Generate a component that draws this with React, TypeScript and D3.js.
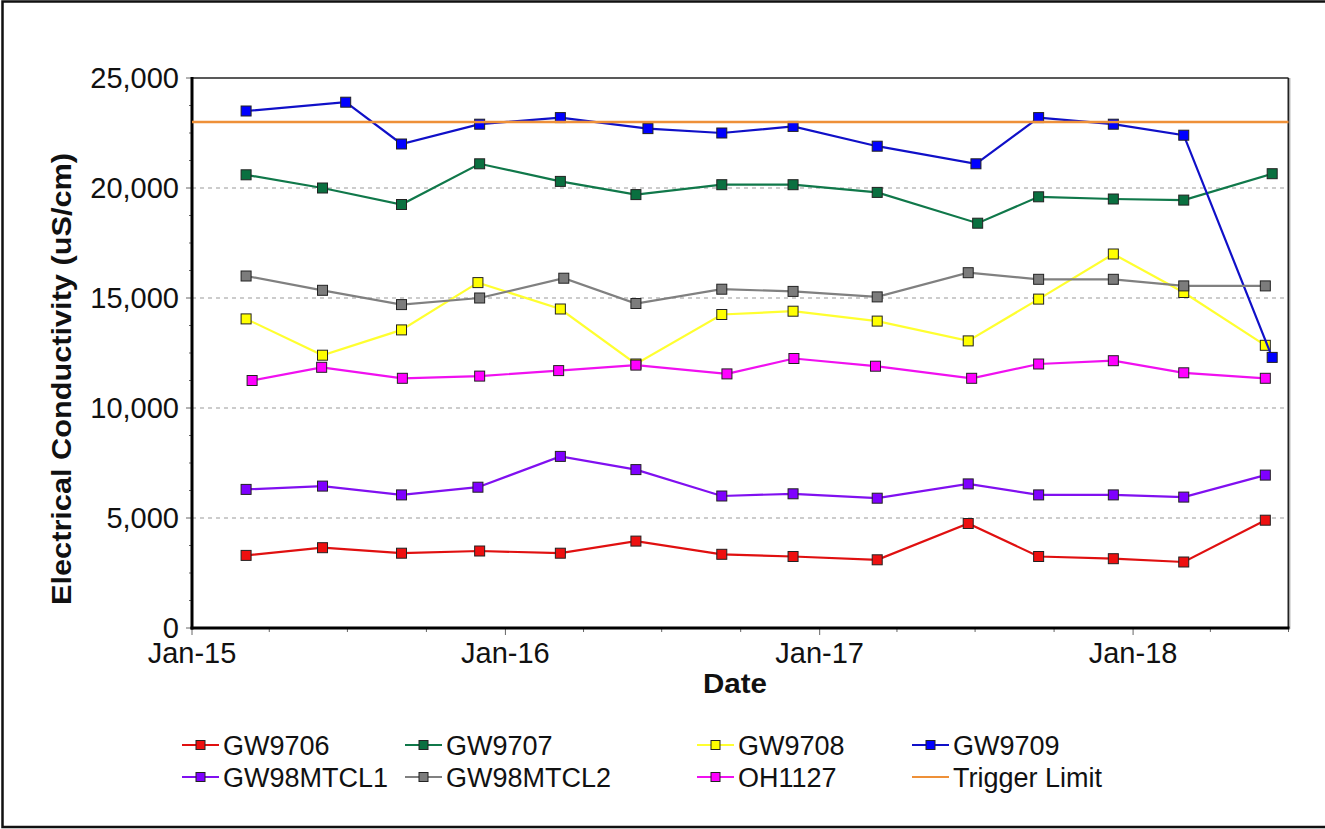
import React from 'react';
import * as d3 from 'd3';

const seriesNames = ['GW9706', 'GW9707', 'GW9708', 'GW9709', 'GW98MTCL1', 'GW98MTCL2', 'OH1127'];
const seriesColors = ['#e01010', '#10784a', '#ffff30', '#1010c8', '#8010f0', '#808080', '#f010f0'];
const markerFills = ['#ee1010', '#0a7040', '#ffff00', '#0000ff', '#7f00ff', '#7c7c7c', '#ff00ff'];

const gw9706Dates = ['2015-03-05', '2015-06-02', '2015-09-02', '2015-12-02', '2016-03-05', '2016-06-01', '2016-09-09', '2016-12-01', '2017-03-09', '2017-06-23', '2017-09-13', '2017-12-09', '2018-03-01', '2018-06-04'];
const gw9706Values = [3300, 3650, 3400, 3500, 3400, 3950, 3350, 3250, 3100, 4750, 3250, 3150, 3000, 4900];

const gw9707Dates = ['2015-03-05', '2015-06-02', '2015-09-02', '2015-12-02', '2016-03-05', '2016-06-01', '2016-09-09', '2016-12-01', '2017-03-09', '2017-07-04', '2017-09-13', '2017-12-09', '2018-03-01', '2018-06-12'];
const gw9707Values = [20600, 20000, 19250, 21100, 20300, 19700, 20150, 20150, 19800, 18400, 19600, 19500, 19450, 20650];

const gw9708Dates = ['2015-03-05', '2015-06-02', '2015-09-02', '2015-11-30', '2016-03-05', '2016-06-01', '2016-09-09', '2016-12-01', '2017-03-09', '2017-06-23', '2017-09-13', '2017-12-09', '2018-03-01', '2018-06-04'];
const gw9708Values = [14050, 12400, 13550, 15700, 14500, 12000, 14250, 14400, 13950, 13050, 14950, 17000, 15250, 12850];

const gw9709Dates = ['2015-03-05', '2015-06-29', '2015-09-02', '2015-12-02', '2016-03-05', '2016-06-15', '2016-09-09', '2016-12-01', '2017-03-09', '2017-07-02', '2017-09-13', '2017-12-09', '2018-03-01', '2018-06-12'];
const gw9709Values = [23500, 23900, 22000, 22900, 23200, 22700, 22500, 22800, 21900, 21100, 23200, 22900, 22400, 12300];

const gw98mtcl1Dates = ['2015-03-05', '2015-06-02', '2015-09-02', '2015-11-30', '2016-03-05', '2016-06-01', '2016-09-09', '2016-12-01', '2017-03-09', '2017-06-23', '2017-09-13', '2017-12-09', '2018-03-01', '2018-06-04'];
const gw98mtcl1Values = [6300, 6450, 6050, 6400, 7800, 7200, 6000, 6100, 5900, 6550, 6050, 6050, 5950, 6950];

const gw98mtcl2Dates = ['2015-03-05', '2015-06-02', '2015-09-02', '2015-12-02', '2016-03-09', '2016-06-01', '2016-09-09', '2016-12-01', '2017-03-09', '2017-06-23', '2017-09-13', '2017-12-09', '2018-03-01', '2018-06-04'];
const gw98mtcl2Values = [16000, 15350, 14700, 15000, 15900, 14750, 15400, 15300, 15050, 16150, 15850, 15850, 15550, 15550];

const oh1127Dates = ['2015-03-12', '2015-06-01', '2015-09-03', '2015-12-02', '2016-03-03', '2016-06-01', '2016-09-15', '2016-12-02', '2017-03-07', '2017-06-27', '2017-09-13', '2017-12-09', '2018-03-01', '2018-06-04'];
const oh1127Values = [11250, 11850, 11350, 11450, 11700, 11950, 11550, 12250, 11900, 11350, 12000, 12150, 11600, 11350];

const triggerLimit = 23000;
const triggerName = 'Trigger Limit';
const triggerColor = '#ee9038';

const yTicks = [0, 5000, 10000, 15000, 20000, 25000];
const yGridValues = [5000, 10000, 15000, 20000];
const xTickDates = ['2015-01-01', '2016-01-01', '2017-01-01', '2018-01-01'];
const xTickLabels = ['Jan-15', 'Jan-16', 'Jan-17', 'Jan-18'];
const xDomain = ['2015-01-01', '2018-07-01'];
const xTitle = 'Date';
const yTitle = 'Electrical Conductivity (uS/cm)';

const allDates = [gw9706Dates, gw9707Dates, gw9708Dates, gw9709Dates, gw98mtcl1Dates, gw98mtcl2Dates, oh1127Dates];
const allValues = [gw9706Values, gw9707Values, gw9708Values, gw9709Values, gw98mtcl1Values, gw98mtcl2Values, oh1127Values];

const parse = d3.utcParse('%Y-%m-%d');

export default function App() {
  const W = 1325, H = 829;
  const left = 192, right = 1288.5, top = 78, bottom = 628;
  const x = d3.scaleUtc().domain(xDomain.map((d) => parse(d) as Date)).range([left, right]);
  const y = d3.scaleLinear().domain([0, 25000]).range([bottom, top]);
  const line = d3.line<[Date, number]>().x((d) => x(d[0])).y((d) => y(d[1]));

  const minorY = d3.range(0, 25001, 1250);
  const minorX = x.ticks(d3.utcMonth.every(3) as any);

  const font = 'Arial, "Liberation Sans", sans-serif';
  const ms = 10;

  const series = seriesNames.map((name, i) => ({
    name,
    color: seriesColors[i],
    fill: markerFills[i],
    pts: allDates[i].map((d, j) => [parse(d) as Date, allValues[i][j]] as [Date, number]),
  }));

  const legendCols = [182, 405, 697, 912];
  const legendRows = [745, 777];
  const legendItems = [...seriesNames.map((n, i) => ({ name: n, color: seriesColors[i], fill: markerFills[i], marker: true })), { name: triggerName, color: triggerColor, fill: '', marker: false }];
  const fmt = d3.format(',');

  return (
    <svg width={W} height={H} style={{ position: 'absolute', left: 0, top: 0, display: 'block', background: '#fff' }} fontFamily={font}>
      <rect x={0} y={0} width={W} height={H} fill="#fff" />
      <rect x={2.5} y={1.5} width={W + 10} height={825.5} fill="none" stroke="#111" strokeWidth={2.5} />

      {yGridValues.map((v) => (
        <line key={'g' + v} x1={left} x2={right} y1={y(v)} y2={y(v)} stroke="#999" strokeWidth={1} strokeDasharray="4,4" />
      ))}

      <line x1={left} x2={right} y1={top} y2={top} stroke="#222" strokeWidth={1.5} />
      <line x1={right} x2={right} y1={top} y2={bottom} stroke="#222" strokeWidth={2} />
      <line x1={right + 1.5} x2={right + 1.5} y1={top} y2={bottom + 1} stroke="#bbb" strokeWidth={1} />

      {minorY.map((v) => (
        <line key={'my' + v} x1={left - (v % 5000 === 0 ? 6 : 3)} x2={left} y1={y(v)} y2={y(v)} stroke="#666" strokeWidth={1} />
      ))}
      {minorX.map((d, i) => (
        <line key={'mx' + i} x1={x(d)} x2={x(d)} y1={bottom} y2={bottom + (d.getUTCMonth() === 0 ? 7 : 4)} stroke="#666" strokeWidth={1} />
      ))}

      <line x1={left} x2={left} y1={top - 1} y2={bottom + 1.5} stroke="#000" strokeWidth={3} />
      <line x1={left - 1.5} x2={right + 1} y1={bottom} y2={bottom} stroke="#000" strokeWidth={3} />

      {yTicks.map((v) => (
        <text key={'yt' + v} x={179} y={y(v)} dy="0.33em" textAnchor="end" fontSize={29} fill="#111">
          {fmt(v)}
        </text>
      ))}
      {xTickDates.map((d, i) => (
        <text key={'xt' + d} x={x(parse(d) as Date)} y={663} textAnchor="middle" fontSize={29} fill="#111">
          {xTickLabels[i]}
        </text>
      ))}

      <text x={735} y={693} textAnchor="middle" fontSize={27} fontWeight="bold" fill="#111" textLength={64} lengthAdjust="spacingAndGlyphs">{xTitle}</text>
      <text transform={`translate(71,379) rotate(-90)`} textAnchor="middle" fontSize={28} fontWeight="bold" fill="#111" textLength={452} lengthAdjust="spacingAndGlyphs">{yTitle}</text>

      {series.map((s) => (
        <g key={s.name}>
          <path d={line(s.pts) || ''} fill="none" stroke={s.color} strokeWidth={2.2} />
          {s.pts.map((p, j) => (
            <rect key={j} x={x(p[0]) - ms / 2} y={y(p[1]) - ms / 2} width={ms} height={ms} fill={s.fill} stroke="#222" strokeWidth={1} />
          ))}
        </g>
      ))}
      <line x1={x(parse(xDomain[0]) as Date)} x2={x(parse(xDomain[1]) as Date)} y1={y(triggerLimit)} y2={y(triggerLimit)} stroke={triggerColor} strokeWidth={2.5} />

      {legendItems.map((it, i) => {
        const cx = legendCols[i % 4];
        const cy = legendRows[Math.floor(i / 4)];
        return (
          <g key={'lg' + it.name}>
            <line x1={cx} x2={cx + 37} y1={cy} y2={cy} stroke={it.color} strokeWidth={2} />
            {it.marker && <rect x={cx + 18.5 - 4.5} y={cy - 4.5} width={9} height={9} fill={it.fill} stroke="#222" strokeWidth={1} />}
            <text x={cx + 41} y={cy + 10} fontSize={27} fill="#111">{it.name}</text>
          </g>
        );
      })}
    </svg>
  );
}
